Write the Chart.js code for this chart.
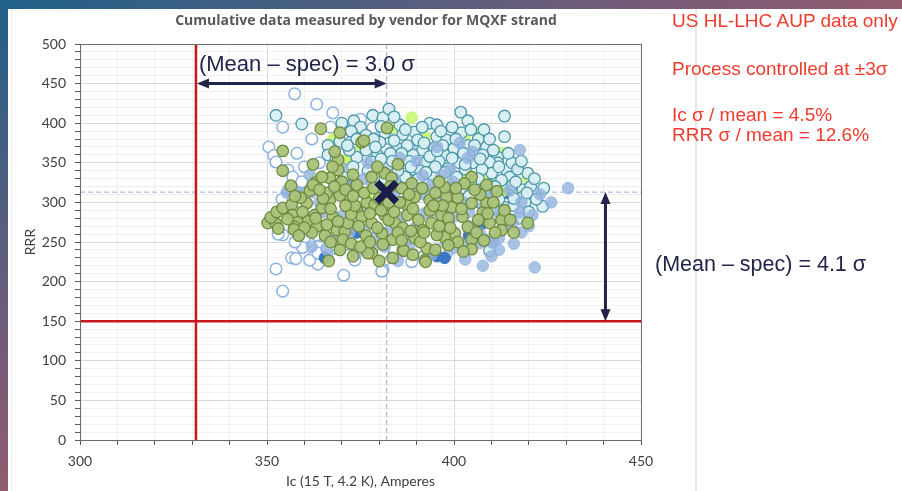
<!DOCTYPE html>
<html>
<head>
<meta charset="utf-8">
<script src="https://cdn.jsdelivr.net/npm/chart.js@4.4.0/dist/chart.umd.min.js"></script>
<style>
  html, body { margin: 0; padding: 0; width: 902px; height: 491px; overflow: hidden; }
  body {
    position: relative;
    background: linear-gradient(to bottom right, #1f6189 0%, #7a5b77 38%, #a65b67 62%, #d06a55 100%);
    font-family: "Liberation Sans", Arial, sans-serif;
  }
  #panel { position: absolute; left: 8px; top: 9px; right: 0; bottom: 0; background: #fff; }
  #edge { position: absolute; left: 11px; top: 9px; bottom: 0; width: 1px; background: #ececec; }
  #divider { position: absolute; left: 695px; top: 9px; bottom: 0; width: 2px; background: #e8e8e8; }
  #chart { position: absolute; left: 0; top: 0; }
  .note { position: absolute; left: 672px; color: #f23a2e; font-size: 19px; line-height: 21px; white-space: nowrap; }
</style>
</head>
<body>
<div id="panel"></div>
<div id="edge"></div>
<div id="divider"></div>
<canvas id="chart" width="902" height="491"></canvas>
<div class="note" style="top:10px">US HL-LHC AUP data only</div>
<div class="note" style="top:58px">Process controlled at ±3σ</div>
<div class="note" style="top:104px">Ic σ / mean = 4.5%</div>
<div class="note" style="top:124px">RRR σ / mean = 12.6%</div>
<script>
// strand data: [Ic (A), RRR] per vendor lot group
const greenPts = [
  [350.2,274],[352.4,273],[351.0,281],[353.0,267],[352.6,288],[354.2,293],[356.6,297],[356.9,284],
  [358.2,275],[357.4,269],[357.2,266],[355.5,279],[354.2,340],[354.2,365],[356.4,321],[364.4,393],
  [362.3,348],[360.6,299],[362.8,284],[364.7,293],[366.8,303],[367.6,282],[368.7,265],[370.8,263],
  [371.6,274],[370.3,253],[372.1,303],[374.0,290],[375.3,282],[369.5,309],[366.0,312],[366.5,226],
  [359.5,288],[361.0,276],[363.5,270],[365.5,258],[362.0,262],[359.0,306],[361.5,315],[363.0,325],
  [362.3,322],[366.8,331],[364.7,332],[369.0,341],[369.0,354],[369.5,388],[375.3,376],[368.1,364],
  [374.0,322],[370.0,326],[375.9,378],[376.7,300],[378.8,297],[381.5,284],[384.2,274],[378.0,274],
  [380.7,261],[383.6,253],[386.3,240],[383.6,230],[392.2,227],[392.7,242],[389.5,255],[391.6,265],
  [394.0,274],[396.7,284],[399.4,294],[402.3,282],[404.7,299],[403.7,269],[400.2,261],[397.5,256],
  [395.4,259],[404.7,253],[404.7,241],[389.5,307],[387.4,297],[393.5,303],[398.0,307],[401.0,306],
  [378.0,236],[386.3,268],[378.0,332],[381.5,337],[383.3,331],[388.7,324],[386.0,318],[397.5,319],
  [404.7,332],[402.8,324],[382.1,394],[408.7,322],[419.7,274],[412.7,278],[409.5,274],[412.7,265],
  [408.7,299],[407.7,287],[392.4,225],[386.6,239],[377.0,236],[372.5,285],[373.5,296],[371.0,316],
  [373.0,308],[376.0,312],[378.5,318],[380.0,305],[380.5,290],[382.5,278],[379.5,268],[376.5,258],
  [374.5,270],[372.5,248],[375.0,244],[377.5,250],[381.0,247],[385.0,262],[387.5,284],[389.0,292],
  [390.5,278],[391.0,250],[393.5,290],[395.0,312],[397.0,296],[398.5,280],[399.0,268],[401.0,250],
  [402.5,238],[406.0,262],[406.5,278],[407.0,310],[409.0,286],[410.5,300],[411.0,262],[413.5,290],
  [415.0,278],[416.0,262],[411.5,314],[405.5,316],[400.5,318],[396.0,326],[391.5,318],[388.0,310],
  [385.5,300],[384.0,288],[383.0,320],[379.5,345],[385.0,348],[373.0,335],[367.5,345],[365.0,305],
  [367.0,292],[369.0,276],[366.0,272],[363.0,280],[360.0,268],[358.5,258],[367.0,250],[369.5,240],
  [373.0,232],[380.0,226],[389.0,234],[395.0,240],[398.5,246],[408.0,252],[386.0,252],[392.0,262],
  [396.0,270],[402.0,292],[394.5,296],[388.5,264],[382.5,300],[377.5,286],[371.0,296],[364.0,316],
  [368.0,320],[357.5,308]
];
const cyanPts = [
  [352.4,410],[359.3,399],[373.2,403],[366.3,372],[366.3,360],[369.5,377],[374.0,357],[373.0,345],
  [368.4,354],[378.3,410],[381.0,407],[382.6,418],[381.5,388],[380.2,376],[386.3,386],[389.5,389],
  [390.3,379],[393.5,400],[395.4,398],[395.4,383],[398.0,379],[394.8,369],[391.6,366],[389.0,360],
  [384.7,369],[386.3,350],[392.2,350],[397.5,360],[402.0,388],[403.7,372],[401.5,350],[405.0,350],
  [398.3,343],[389.5,341],[382.3,347],[379.6,360],[378.0,351],[394.3,334],[400.7,332],[393.0,322],
  [405.5,322],[401.8,414],[403.7,403],[413.5,409],[413.5,383],[408.7,370],[411.7,357],[411.7,350],
  [409.5,351],[407.7,360],[414.0,341],[414.9,332],[419.7,337],[415.7,322],[418.4,316],[410.1,337],
  [412.7,328],[409.5,322],[413.5,294],[413.5,284],[423.7,295],[418.4,307],[411.4,312],[409.5,239],
  [384.0,378],[387.5,372],[392.0,375],[396.5,390],[399.5,395],[404.5,392],[406.5,380],[400.0,368],
  [396.0,352],[391.0,340],[387.0,332],[384.5,322],[390.5,330],[397.5,338],[403.0,342],[407.5,342],
  [404.0,360],[410.5,366],[415.5,350],[417.0,342],[416.5,326],[420.5,320],[419.0,300],[416.0,296],
  [406.5,330],[402.0,318],[396.5,312],[390.0,312],[385.0,340],[381.5,330],[376.5,366],[377.0,340],
  [372.0,366],[370.5,332],[375.0,395],[385.5,398],[388.0,352],[393.5,358],[399.5,356],[402.5,362],
  [408.0,392],[411.0,320],[407.0,300],[404.0,308],[398.0,302],[420.0,288],[417.5,280],[412.0,304],
  [422.0,304],[395.0,345],[380.5,396],[384.0,408],[370.0,400],[376.5,385],[372.5,390],[378.5,380],
  [383.0,362],[387.0,392],[391.5,395],[397.0,372],[400.5,380],[405.5,372],[409.5,380],[414.5,362],
  [418.0,352],[421.5,330],[424.0,318],[419.5,312],[416.0,305],[410.5,292],[404.5,325],[399.0,318],
  [392.5,338],[388.5,345],[383.5,352],[379.0,370],[374.0,380],[371.5,372],[380.5,355],[386.0,362],
  [407.0,355],[403.0,348],[395.5,365],[412.0,345]
];
const bluePts = [
  [430.5,318],[421.6,218],[407.7,220],[417.6,287],[415.7,274],[410.6,251],[417.6,366],[399.7,242],
  [402.0,246],[381.5,244],[378.0,246],[387.7,253],[376.1,265],[410.3,249],[408.7,253],[406.9,249],
  [406.9,261],[395.4,370],[401.5,375],[385.5,356],[391.6,334],[396.7,334],[403.7,356],[405.0,364],
  [394.0,322],[399.7,326],[380.7,341],[373.0,271],[360.1,280],[361.4,263],[366.8,255],[368.7,253],
  [355.3,312],[358.8,312],[362.0,313],[355.6,316],[358.2,313],[361.4,335],[364.0,300],[368.0,310],
  [372.0,320],[376.0,330],[380.0,318],[384.0,310],[388.0,300],[392.0,310],[396.0,300],[400.0,310],
  [404.0,288],[408.0,295],[412.0,286],[414.0,270],[418.0,262],[412.0,255],[404.0,270],[400.0,282],
  [396.0,262],[390.0,270],[386.0,280],[383.0,266],[379.0,256],[372.0,262],[370.0,283],[365.0,288],
  [376.0,290],[382.0,295],[392.0,286],[398.0,248],[394.0,234],[388.0,244],[403.0,228],[412.0,240],
  [418.0,300],[420.0,270],[410.0,232],[374.0,236],[385.0,226],[416.0,248],[366.0,240],[362.0,244],
  [370.0,344],[377.0,350],[390.0,352],[399.0,342],[408.0,312],[423.0,310],[426.0,300],[421.0,284],
  [415.0,315],[402.5,300],[398.0,290],[409.5,304],[384.0,330],[378.0,325],[389.0,322]
];
const openPts = [
  [357.4,437],[363.3,424],[367.6,413],[354.2,395],[350.5,370],[351.8,359],[352.4,351],[371.3,389],
  [370.0,385],[355.6,341],[356.9,332],[359.3,326],[354.2,259],[352.4,216],[354.2,188],[356.6,230],
  [357.7,229],[361.4,251],[364.4,258],[362.3,231],[363.6,222],[361.4,227],[363.6,236],[370.5,208],
  [368.4,242],[371.6,247],[381.0,215],[388.7,225],[381.5,228],[377.0,249],[380.7,213],[360.1,256],
  [366.0,242],[368.7,245],[363.3,259],[381.0,237],[398.0,236],[359.5,243],[357.5,250],[366.0,232],
  [373.5,227],[375.0,300],[372.0,340],[365.0,305],[385.0,345],[390.0,330],[395.0,290],[378.0,370],
  [383.0,380],[370.0,360],[364.0,350],[360.0,345],[358.0,362],[362.0,380],[367.0,395],[375.0,405],
  [380.0,392],[388.0,370],[400.0,325],[405.0,300],[396.0,240],[392.0,232],[384.0,242],[376.0,242],
  [354.0,304],[357.0,290],[353.0,260],[378.3,394]
];
const limePts = [
  [388.7,407],[406.4,388],[412.7,362],[419.7,331],[384.7,394],[392.2,383],[398.8,366],[386.3,360],
  [375.6,372],[371.3,353],[367.6,379],[397.0,328],[412.7,313],[377.6,312],[403.4,337],[402.8,383],
  [406.9,385],[406.9,350],[370.8,350],[375.3,370],[380.0,340],[393.0,345],[408.0,330],[416.0,318],
  [363.0,330]
];
const navyPts = [
  [416.8,345],[414.0,312],[407.4,273],[395.4,232],[397.5,230],[365.5,230],[372.1,326],[407.7,274],
  [404.0,258],[386.0,300],[374.0,262]
];

// population mean and spec limits
const meanIc = 382;
const meanRrr = 313;
const specIc = 331;
const specRrr = 150;
const arrowRrr = 450;   // height of the Ic margin arrow
const arrowIc = 440.5;  // position of the RRR margin arrow

const asXY = arr => arr.map(p => ({ x: p[0], y: p[1] }));
const tickFont = { family: 'Lato, "Open Sans", sans-serif', size: 14 };

function seg(ctx, x1, y1, x2, y2) {
  ctx.beginPath(); ctx.moveTo(x1, y1); ctx.lineTo(x2, y2); ctx.stroke();
}

function arrow(ctx, x1, y1, x2, y2) {
  const ang = Math.atan2(y2 - y1, x2 - x1);
  const len = 12, half = 5;
  const head = (x, y, a) => {
    ctx.beginPath();
    ctx.moveTo(x, y);
    ctx.lineTo(x - len * Math.cos(a) + half * Math.sin(a), y - len * Math.sin(a) - half * Math.cos(a));
    ctx.lineTo(x - len * Math.cos(a) - half * Math.sin(a), y - len * Math.sin(a) + half * Math.cos(a));
    ctx.closePath(); ctx.fill();
  };
  seg(ctx, x1 + (len - 2) * Math.cos(ang), y1 + (len - 2) * Math.sin(ang),
           x2 - (len - 2) * Math.cos(ang), y2 - (len - 2) * Math.sin(ang));
  head(x2, y2, ang);
  head(x1, y1, ang + Math.PI);
}

const overlay = {
  id: 'overlay',
  beforeDatasetsDraw(chart) {
    const { ctx, chartArea: a, scales: { x, y } } = chart;
    ctx.save();
    ctx.strokeStyle = '#8faadc'; ctx.lineWidth = 1; ctx.setLineDash([5, 3]);
    const mx = x.getPixelForValue(meanIc), my = y.getPixelForValue(meanRrr);
    seg(ctx, mx, a.top, mx, a.bottom);
    seg(ctx, a.left, my, a.right, my);
    ctx.setLineDash([]);
    ctx.strokeStyle = '#c8161d'; ctx.lineWidth = 2.5;
    const sx = x.getPixelForValue(specIc), sy = y.getPixelForValue(specRrr);
    seg(ctx, sx, a.top, sx, a.bottom);
    seg(ctx, a.left, sy, a.right, sy);
    ctx.restore();
  },
  afterDraw(chart) {
    const { ctx, chartArea: a, scales: { x, y } } = chart;
    ctx.save();
    ctx.strokeStyle = '#6a6a6a'; ctx.lineWidth = 1;
    ctx.strokeRect(a.left + 0.5, a.top + 0.5, a.right - a.left, a.bottom - a.top);

    // margin arrows
    ctx.strokeStyle = '#23244b'; ctx.fillStyle = '#23244b'; ctx.lineWidth = 3;
    const ay = y.getPixelForValue(arrowRrr);
    arrow(ctx, x.getPixelForValue(specIc) + 1, ay, x.getPixelForValue(meanIc), ay);
    const ax = x.getPixelForValue(arrowIc);
    arrow(ctx, ax, y.getPixelForValue(meanRrr), ax, y.getPixelForValue(specRrr));

    ctx.textBaseline = 'middle'; ctx.textAlign = 'left';
    ctx.font = '22px "Liberation Sans", Arial, sans-serif';
    ctx.fillText('(Mean \u2013 spec) = 3.0 \u03c3', x.getPixelForValue(specIc) + 3, y.getPixelForValue(474));
    ctx.font = '21.5px "Liberation Sans", Arial, sans-serif';
    ctx.fillText('(Mean \u2013 spec) = 4.1 \u03c3', a.right + 14, y.getPixelForValue(221));

    // chart and axis titles
    ctx.fillStyle = '#595959'; ctx.textAlign = 'center';
    ctx.font = 'bold 14px "Open Sans", Lato, sans-serif';
    ctx.fillText('Cumulative data measured by vendor for MQXF strand', 366, 21);
    ctx.fillStyle = '#404040';
    ctx.font = '14px Lato, "Open Sans", sans-serif';
    ctx.fillText('Ic (15 T, 4.2 K), Amperes', (a.left + a.right) / 2, 481);
    ctx.translate(30, (a.top + a.bottom) / 2);
    ctx.rotate(-Math.PI / 2);
    ctx.fillText('RRR', 0, 0);
    ctx.restore();
  }
};

const pointSet = (data, fill, border, width, order) => ({
  data: asXY(data), backgroundColor: fill, borderColor: border, borderWidth: width,
  pointRadius: 5.8, order
});

new Chart(document.getElementById('chart'), {
  type: 'scatter',
  data: {
    datasets: [
      { data: [{ x: meanIc, y: meanRrr }], pointStyle: 'crossRot', pointRadius: 14,
        borderColor: '#1d1d4b', borderWidth: 7, order: 0 },
      pointSet(greenPts, 'rgba(170,195,120,0.95)', '#6f8a40', 1.3, 1),
      pointSet(bluePts, 'rgba(148,179,222,0.8)', 'rgba(148,179,222,0.8)', 1, 2),
      pointSet(cyanPts, 'rgba(216,239,244,0.95)', '#4d98a7', 1.3, 3),
      pointSet(limePts, 'rgba(198,247,112,0.9)', 'rgba(198,247,112,0.9)', 1, 4),
      pointSet(navyPts, '#3b76c2', '#3b76c2', 1, 5),
      pointSet(openPts, '#ffffff', '#8db3e2', 1.5, 6)
    ]
  },
  options: {
    responsive: false,
    animation: false,
    layout: { padding: { left: 0, top: 44, right: 261, bottom: 0 } },
    plugins: { legend: { display: false }, tooltip: { enabled: false } },
    scales: {
      x: {
        type: 'linear', min: 300, max: 450,
        afterFit(s) { s.height = 51; },
        ticks: {
          stepSize: 10, maxTicksLimit: 100, autoSkip: false, maxRotation: 0, padding: 8,
          color: '#404040', font: tickFont,
          callback: v => (v % 50 === 0 ? String(v) : '')
        },
        grid: {
          color: c => (c.tick && c.tick.value % 50 === 0 ? '#d9d9d9' : '#f0f0f0'),
          tickColor: '#595959', tickLength: 5
        },
        border: { color: '#595959' }
      },
      y: {
        type: 'linear', min: 0, max: 500,
        afterFit(s) { s.width = 80; },
        ticks: {
          stepSize: 10, maxTicksLimit: 100, autoSkip: false, padding: 9,
          color: '#404040', font: tickFont,
          callback: v => (v % 50 === 0 ? String(v) : '')
        },
        grid: {
          color: c => (c.tick && c.tick.value % 50 === 0 ? '#d9d9d9' : '#f0f0f0'),
          tickColor: '#595959', tickLength: 5
        },
        border: { color: '#595959' }
      }
    }
  },
  plugins: [overlay]
});
</script>
</body>
</html>
